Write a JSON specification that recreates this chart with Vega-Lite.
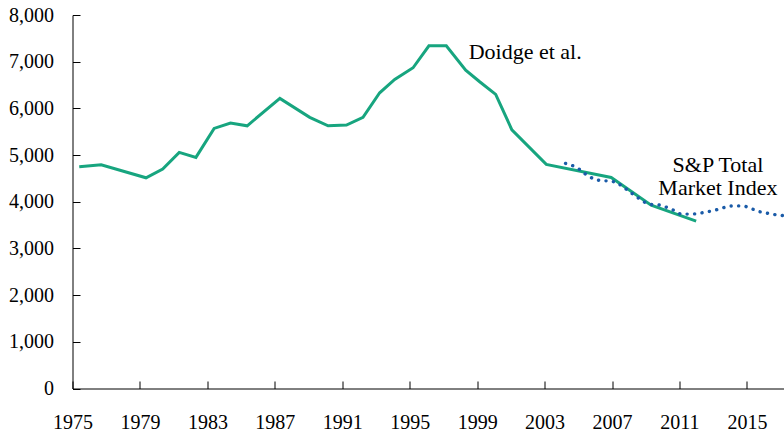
{
  "$schema": "https://vega.github.io/schema/vega-lite/v6.json",
  "width": 711.5,
  "height": 373.5,
  "autosize": "none",
  "padding": {"left": 72.5, "top": 15, "right": 0, "bottom": 46.5},
  "background": "white",
  "config": {
    "view": {"stroke": null},
    "axis": {
      "domainColor": "black",
      "domainWidth": 1,
      "tickColor": "black",
      "tickWidth": 1,
      "tickSize": -7.5,
      "labelColor": "black",
      "labelFont": "Liberation Serif",
      "labelFontSize": 20,
      "grid": false,
      "title": null
    }
  },
  "datasets": {
    "doidge": [
      {"year": 1975.4, "value": 4748},
      {"year": 1976.7, "value": 4790},
      {"year": 1979.36, "value": 4513},
      {"year": 1980.35, "value": 4699},
      {"year": 1981.33, "value": 5057},
      {"year": 1982.32, "value": 4950},
      {"year": 1983.4, "value": 5571},
      {"year": 1984.37, "value": 5685},
      {"year": 1985.36, "value": 5627},
      {"year": 1987.3, "value": 6214},
      {"year": 1989.07, "value": 5807},
      {"year": 1990.16, "value": 5627},
      {"year": 1991.25, "value": 5642},
      {"year": 1992.23, "value": 5807},
      {"year": 1993.22, "value": 6334},
      {"year": 1994.11, "value": 6621},
      {"year": 1995.2, "value": 6870},
      {"year": 1996.14, "value": 7341},
      {"year": 1997.17, "value": 7341},
      {"year": 1998.32, "value": 6820},
      {"year": 1999.15, "value": 6570},
      {"year": 2000.1, "value": 6300},
      {"year": 2001.06, "value": 5540},
      {"year": 2003.1, "value": 4800},
      {"year": 2006.95, "value": 4521},
      {"year": 2009.32, "value": 3928},
      {"year": 2011.99, "value": 3585}
    ],
    "sp": [
      {"year": 2004.24, "value": 4821},
      {"year": 2004.68, "value": 4770},
      {"year": 2005.11, "value": 4684},
      {"year": 2005.5, "value": 4571},
      {"year": 2005.92, "value": 4485},
      {"year": 2006.36, "value": 4448},
      {"year": 2006.85, "value": 4448},
      {"year": 2007.28, "value": 4414},
      {"year": 2007.68, "value": 4313},
      {"year": 2008.08, "value": 4206},
      {"year": 2008.87, "value": 3998},
      {"year": 2009.32, "value": 3943},
      {"year": 2009.77, "value": 3934},
      {"year": 2010.21, "value": 3885},
      {"year": 2010.64, "value": 3820},
      {"year": 2011.06, "value": 3735},
      {"year": 2011.53, "value": 3735},
      {"year": 2012.03, "value": 3741},
      {"year": 2012.54, "value": 3778},
      {"year": 2012.97, "value": 3805},
      {"year": 2013.47, "value": 3857},
      {"year": 2013.92, "value": 3906},
      {"year": 2014.4, "value": 3913},
      {"year": 2014.87, "value": 3906},
      {"year": 2015.34, "value": 3842},
      {"year": 2015.78, "value": 3784},
      {"year": 2016.27, "value": 3750},
      {"year": 2016.73, "value": 3720},
      {"year": 2017.2, "value": 3700}
    ],
    "labels": [
      {"label": ["Doidge et al."], "year": 1998.5, "value": 7060, "kind": "left"},
      {"label": ["S&P Total", "Market Index"], "year": 2013.28, "value": 4630, "kind": "center"}
    ]
  },
  "encoding": {
    "x": {
      "field": "year",
      "type": "quantitative",
      "scale": {"domain": [1975, 2017.2], "nice": false, "zero": false},
      "axis": {
        "values": [1975, 1979, 1983, 1987, 1991, 1995, 1999, 2003, 2007, 2011, 2015],
        "format": "d",
        "labelPadding": 31,
        "labelFlush": false,
        "labelOverlap": false
      }
    },
    "y": {
      "field": "value",
      "type": "quantitative",
      "scale": {"domain": [0, 8000], "nice": false},
      "axis": {
        "values": [0, 1000, 2000, 3000, 4000, 5000, 6000, 7000, 8000],
        "format": ",d",
        "labelPadding": 26.5,
        "labelFlush": false,
        "labelOverlap": false
      }
    }
  },
  "layer": [
    {
      "data": {"name": "doidge"},
      "mark": {"type": "line", "color": "#17a57f", "strokeWidth": 3, "strokeJoin": "miter"}
    },
    {
      "data": {"name": "sp"},
      "mark": {"type": "line", "color": "#1a5ba8", "strokeWidth": 3.4, "strokeCap": "round", "strokeDash": [0.1, 7.4], "clip": true}
    },
    {
      "data": {"name": "labels"},
      "transform": [{"filter": "datum.kind == 'left'"}],
      "mark": {"type": "text", "align": "left", "baseline": "alphabetic", "font": "Liberation Serif", "fontSize": 22, "color": "black"},
      "encoding": {"text": {"field": "label"}}
    },
    {
      "data": {"name": "labels"},
      "transform": [{"filter": "datum.kind == 'center'"}],
      "mark": {"type": "text", "align": "center", "baseline": "alphabetic", "font": "Liberation Serif", "fontSize": 22, "lineHeight": 22.7, "color": "black"},
      "encoding": {"text": {"field": "label"}}
    }
  ]
}
